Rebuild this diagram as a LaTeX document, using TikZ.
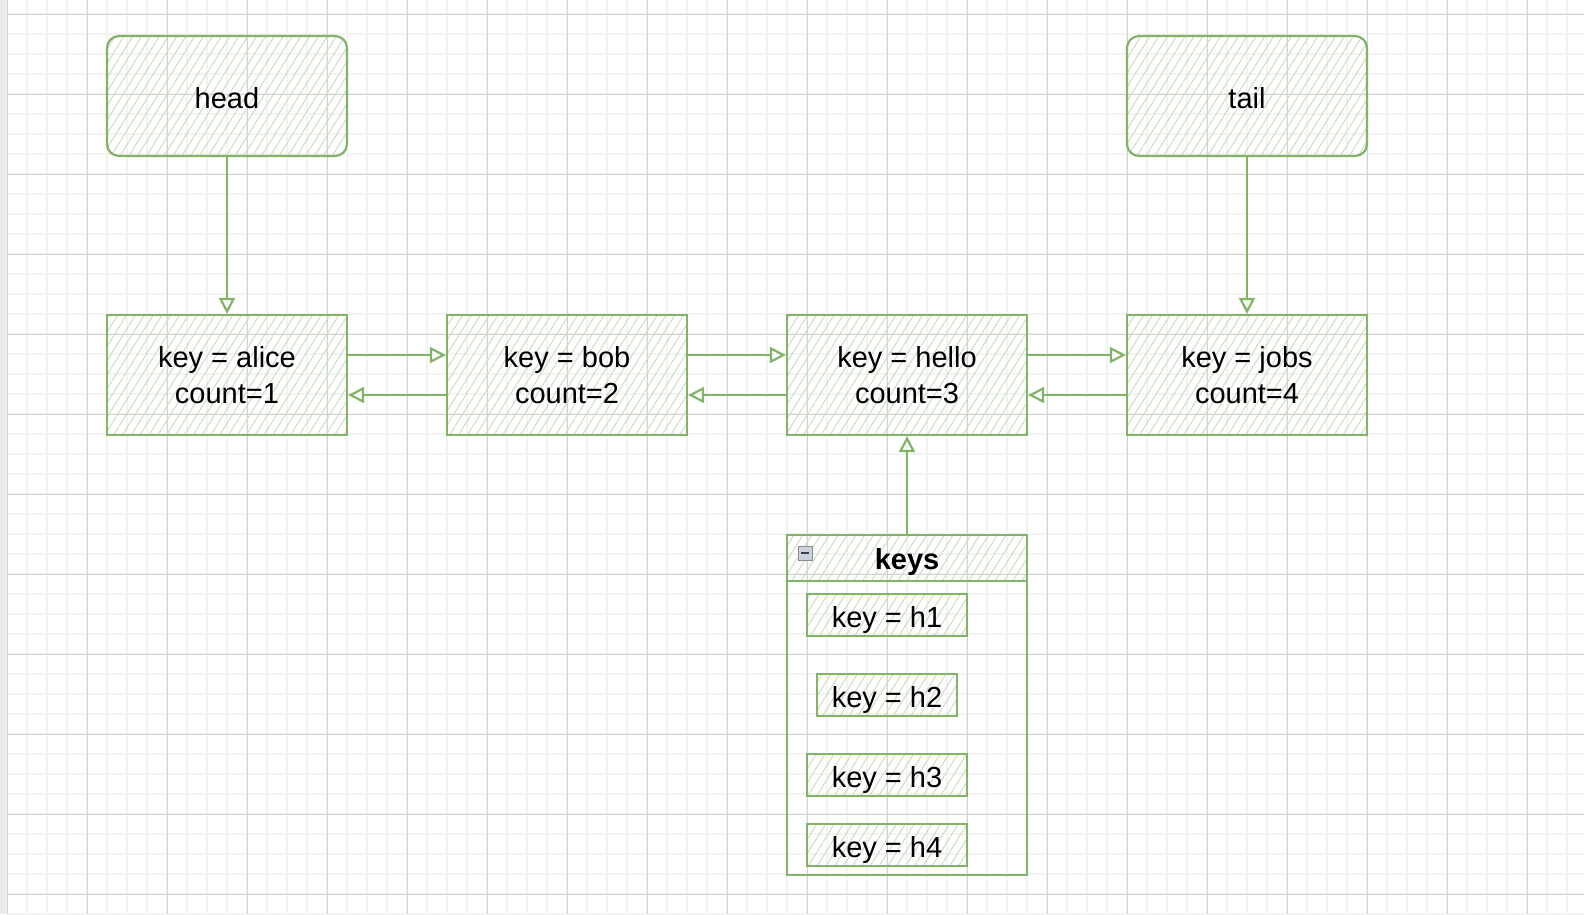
\documentclass[tikz,border=0pt]{standalone}
\usepackage{fontspec}
\setmainfont{Liberation Sans}
\usetikzlibrary{arrows.meta,patterns.meta}

\definecolor{green1}{HTML}{82B366}
\definecolor{hatch1}{HTML}{CBDEC6}
\definecolor{grid1}{HTML}{D2D2D2}
\definecolor{grid2}{HTML}{F3F3F3}
\definecolor{icon1}{HTML}{C9D2DE}

\tikzstyle{minorline} = [grid2, line width=1.2pt]
\tikzstyle{majorline} = [grid1, line width=1pt]
\tikzstyle{block} = [rectangle, draw=green1, line width=2.2pt, pattern={Lines[angle=58, distance=7.5pt, line width=1pt]}, pattern color=hatch1, text centered, align=center, minimum width=240pt, minimum height=120pt, font=\fontsize{29}{36}\selectfont]
\tikzstyle{pointer} = [block, rounded corners=12pt, text height=25pt]
\tikzstyle{keybox} = [block, minimum width=160pt, minimum height=40pt, text height=30pt]
\tikzstyle{listbox} = [rectangle, draw=green1, line width=2.2pt, minimum width=240pt, minimum height=340pt]
\tikzstyle{listhead} = [block, minimum height=46pt, text height=29pt, font=\fontsize{29}{36}\selectfont\bfseries]
\tikzstyle{link} = [draw=green1, line width=2.2pt, -{Triangle[open, length=16pt, width=16pt, line width=2.2pt]}]

\begin{document}
\begin{tikzpicture}[x=1pt, y=-1pt]
	\useasboundingbox (0,0) rectangle (1584,914);
	% Background grid
	\fill[white] (0,0) rectangle (1584,914);
	\foreach \x in {7,27,...,1583} \draw[minorline] (\x,0) -- (\x,914);
	\foreach \y in {14,34,...,914} \draw[minorline] (7,\y) -- (1584,\y);
	\foreach \x in {7,87,...,1583} \draw[majorline] (\x,0) -- (\x,914);
	\foreach \y in {14,94,...,914} \draw[majorline] (7,\y) -- (1584,\y);
	\fill[black!8] (0,0) rectangle (6,914);

	% Pointers
	\node [pointer] (head) at (227,96) {head};
	\node [pointer] (tail) at (1247,96) {tail};

	% List nodes
	\node [block] (alice) at (227,375) {key = alice\\count=1};
	\node [block] (bob)   at (567,375) {key = bob\\count=2};
	\node [block] (hello) at (907,375) {key = hello\\count=3};
	\node [block] (jobs)  at (1247,375) {key = jobs\\count=4};

	% Keys set
	\node [listbox] (keys) at (907,705) {};
	\node [listhead, anchor=north] (keyshead) at (keys.north) {keys};
	\node [rectangle, draw=black!45, fill=icon1, minimum size=14pt, inner sep=0pt,
		path picture={\draw[black!75, line width=1.6pt] ([xshift=3pt]path picture bounding box.west) -- ([xshift=-3pt]path picture bounding box.east);}]
		(fold) at (805,553) {};
	\node [keybox] (h1) at (887,615) {key = h1};
	\node [keybox, minimum width=140pt] (h2) at (887,695) {key = h2};
	\node [keybox] (h3) at (887,775) {key = h3};
	\node [keybox] (h4) at (887,845) {key = h4};

	% Connectors
	\draw [link] (head.south) to (alice.north);
	\draw [link] (tail.south) to (jobs.north);
	\draw [link] (keyshead.north) to (hello.south);
	\draw [link] ([yshift=20pt]alice.east) to ([yshift=20pt]bob.west);
	\draw [link] ([yshift=-20pt]bob.west) to ([yshift=-20pt]alice.east);
	\draw [link] ([yshift=20pt]bob.east) to ([yshift=20pt]hello.west);
	\draw [link] ([yshift=-20pt]hello.west) to ([yshift=-20pt]bob.east);
	\draw [link] ([yshift=20pt]hello.east) to ([yshift=20pt]jobs.west);
	\draw [link] ([yshift=-20pt]jobs.west) to ([yshift=-20pt]hello.east);
\end{tikzpicture}
\end{document}
